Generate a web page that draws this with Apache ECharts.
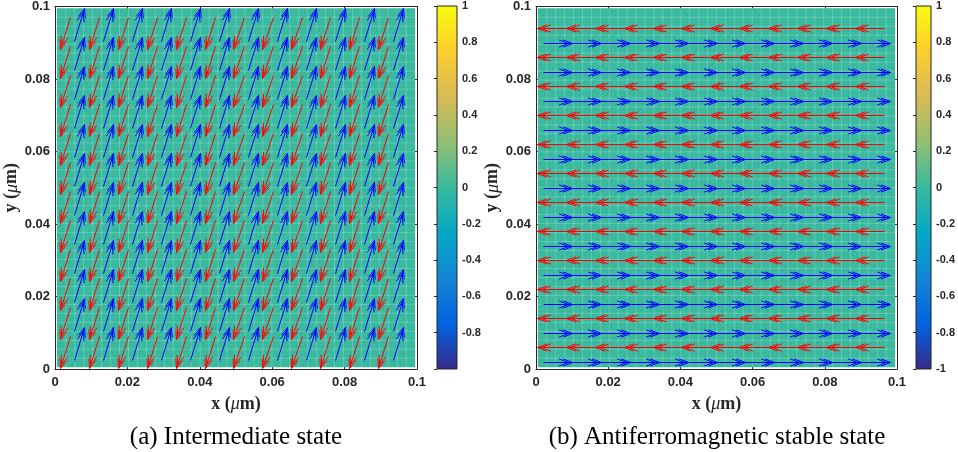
<!DOCTYPE html>
<html><head><meta charset="utf-8">
<script src="https://cdn.jsdelivr.net/npm/echarts@6/dist/echarts.min.js"></script>
<style>html,body{margin:0;padding:0;background:#fff}#c{width:958px;height:452px}</style>
</head><body><div id="c"></div>
<script>
// ---------------- data ----------------
const axisTicks = [0, 0.02, 0.04, 0.06, 0.08, 0.1];
const colorbarTicks = [-1, -0.8, -0.6, -0.4, -0.2, 0, 0.2, 0.4, 0.6, 0.8, 1];
const parulaStops = ['#352a87', '#0363e1', '#1485d4', '#06a7c6', '#38b99e', '#92bf73', '#d9ba56', '#fcce2e', '#f9fb0e'];
const fieldValue = 0;                 // m_z over the whole sample
const fieldExtent = [0.0005, 0.0995]; // sample extent (um)
const meshStep = 0.0025;              // FEM mesh cell (um)

// Panel (a) intermediate state: two canted sublattices
const aRedX  = [0.0041, 0.0121, 0.0201, 0.0281, 0.0361, 0.0441, 0.0521, 0.0601, 0.0681, 0.0761, 0.0841, 0.0921];
const aRedY  = [0.0972, 0.0892, 0.0812, 0.0732, 0.0652, 0.0572, 0.0492, 0.0412, 0.0332, 0.0252, 0.0172, 0.0092];
const aRedVec  = [-0.0028, -0.0090];
const aBlueX = [0.0053, 0.0133, 0.0213, 0.0293, 0.0373, 0.0453, 0.0533, 0.0613, 0.0693, 0.0773, 0.0853, 0.0933];
const aBlueY = [0.0905, 0.0825, 0.0745, 0.0665, 0.0585, 0.0505, 0.0425, 0.0345, 0.0265, 0.0185, 0.0105, 0.0025];
const aBlueVec = [0.0028, 0.0090];

// Panel (b) antiferromagnetic stable state: alternating rows
const bRedX  = [0.0083, 0.0163, 0.0243, 0.0323, 0.0403, 0.0483, 0.0563, 0.0643, 0.0723, 0.0803, 0.0883, 0.0963];
const bRedY  = [0.0942, 0.0862, 0.0782, 0.0702, 0.0622, 0.0542, 0.0462, 0.0382, 0.0302, 0.0222, 0.0142, 0.0062];
const bRedVec  = [-0.0080, 0];
const bBlueX = [0.0020, 0.0100, 0.0180, 0.0260, 0.0340, 0.0420, 0.0500, 0.0580, 0.0660, 0.0740, 0.0820, 0.0900];
const bBlueY = [0.0900, 0.0820, 0.0740, 0.0660, 0.0580, 0.0500, 0.0420, 0.0340, 0.0260, 0.0180, 0.0100, 0.0020];
const bBlueVec = [0.0080, 0];

const captions = ['(a) Intermediate state', '(b) Antiferromagnetic stable state'];

// ---------------- helpers ----------------
function hexToRgb(h){return [parseInt(h.substr(1,2),16),parseInt(h.substr(3,2),16),parseInt(h.substr(5,2),16)];}
function parula(v){ // v in [-1,1]
  const t = (v + 1) / 2 * (parulaStops.length - 1);
  const i = Math.max(0, Math.min(parulaStops.length - 2, Math.floor(t)));
  const f = t - i;
  const a = hexToRgb(parulaStops[i]), b = hexToRgb(parulaStops[i+1]);
  return 'rgb(' + a.map((c,k)=>Math.round(c + (b[k]-c)*f)).join(',') + ')';
}
function grid2(xs, ys, vec){
  const out = [];
  ys.forEach(y => xs.forEach(x => out.push([x, y, vec[0], vec[1]])));
  return out;
}
const snap = p => [Math.round(p[0]) + 0.5, Math.round(p[1]) + 0.5];
function arrowRender(color){
  return function(params, api){
    const x = api.value(0), y = api.value(1), u = api.value(2), v = api.value(3);
    const p0 = snap(api.coord([x, y])), p1 = snap(api.coord([x + u, y + v]));
    const dx = p1[0]-p0[0], dy = p1[1]-p0[1];
    const L = Math.hypot(dx, dy) || 1;
    const ux = dx/L, uy = dy/L;
    const hl = 10, ang = 21 * Math.PI/180;
    const bx = -ux, by = -uy;
    const r1 = [bx*Math.cos(ang) - by*Math.sin(ang), bx*Math.sin(ang) + by*Math.cos(ang)];
    const r2 = [bx*Math.cos(-ang) - by*Math.sin(-ang), bx*Math.sin(-ang) + by*Math.cos(-ang)];
    const style = {stroke: color, lineWidth: 1, fill: null};
    const children = [{type:'polyline', shape:{points:[p0, p1]}, style}];
    [0, 4].forEach(off => {
      const t = [p1[0] - ux*off, p1[1] - uy*off];
      children.push({type:'polyline', shape:{points:[
        [t[0] + r1[0]*hl, t[1] + r1[1]*hl], t, [t[0] + r2[0]*hl, t[1] + r2[1]*hl]]}, style});
    });
    return {type:'group', children};
  };
}
function fieldRender(params, api){
  const lo = api.value(0), hi = api.value(1);
  const a = api.coord([lo, lo]), b = api.coord([hi, hi]);
  const children = [{type:'rect', shape:{x:a[0], y:b[1], width:b[0]-a[0], height:a[1]-b[1]},
    style:{fill: parula(fieldValue)}}];
  const n = Math.round((hi - lo) / meshStep);
  const sx = (b[0]-a[0])/n, sy = (a[1]-b[1])/n;
  const line = {stroke:'rgba(255,255,255,0.30)', lineWidth:0.7};
  const dash = {stroke:'rgba(255,255,255,0.25)', lineWidth:0.6, lineDash:[1.5,1.5]};
  for (let i = 1; i < n; i++){
    children.push({type:'line', shape:{x1:a[0]+i*sx, y1:b[1], x2:a[0]+i*sx, y2:a[1]}, style:line});
    children.push({type:'line', shape:{x1:a[0], y1:b[1]+i*sy, x2:b[0], y2:b[1]+i*sy}, style:line});
  }
  for (let i = 0; i < n; i++) for (let j = 0; j < n; j++){
    children.push({type:'line', shape:{x1:a[0]+i*sx, y1:a[1]-j*sy, x2:a[0]+(i+1)*sx, y2:a[1]-(j+1)*sy}, style:dash});
  }
  return {type:'group', children, silent:true};
}
function colorbarRender(params, api){
  const a = api.coord([0, colorbarTicks[0]]), b = api.coord([1, colorbarTicks[colorbarTicks.length-1]]);
  return {type:'rect', shape:{x:a[0], y:b[1], width:b[0]-a[0], height:a[1]-b[1]},
    style:{fill:new echarts.graphic.LinearGradient(0,1,0,0, parulaStops.map((c,i)=>({offset:i/(parulaStops.length-1), color:c}))),
      stroke:'#262626', lineWidth:1}};
}

// ---------------- axes ----------------
const axCol = '#262626';
const tickFont = {color: axCol, fontFamily:'Liberation Sans, Arial', fontWeight:'bold', fontSize:13};
const nameRich = {
  b:{fontFamily:'Liberation Serif, Times New Roman', fontWeight:'bold', fontSize:18, color:axCol},
  i:{fontFamily:'Liberation Serif, Times New Roman', fontStyle:'italic', fontSize:18, color:axCol}
};
function mainX(grid, pos, withLabel, name){
  return {type:'value', gridIndex:grid, position:pos, min:axisTicks[0], max:axisTicks[axisTicks.length-1],
    interval:axisTicks[1]-axisTicks[0],
    axisLine:{show:true, onZero:false, lineStyle:{color:axCol, width:1}},
    axisTick:{show:true, inside:true, length:4, lineStyle:{color:axCol}},
    axisLabel:{show:withLabel, margin:7, ...tickFont},
    splitLine:{show:false},
    name: name || '', nameLocation:'middle', nameGap:26, nameTextStyle:{rich:nameRich}};
}
function mainY(grid, pos, withLabel, name){
  return {type:'value', gridIndex:grid, position:pos, min:axisTicks[0], max:axisTicks[axisTicks.length-1],
    interval:axisTicks[1]-axisTicks[0],
    axisLine:{show:true, onZero:false, lineStyle:{color:axCol, width:1}},
    axisTick:{show:true, inside:true, length:4, lineStyle:{color:axCol}},
    axisLabel:{show:withLabel, margin:5, ...tickFont},
    splitLine:{show:false},
    name: name || '', nameLocation:'middle', nameGap:30, nameRotate:90, nameTextStyle:{rich:nameRich}};
}
function cbX(grid){
  return {type:'value', gridIndex:grid, min:0, max:1, show:false};
}
function cbY(grid, hideMin){
  return {type:'value', gridIndex:grid, position:'right', min:colorbarTicks[0], max:colorbarTicks[colorbarTicks.length-1],
    interval:colorbarTicks[1]-colorbarTicks[0],
    axisLine:{show:false},
    axisTick:{show:true, inside:true, length:3, lineStyle:{color:axCol}},
    axisLabel:{show:true, margin:5, color:axCol, fontFamily:'Liberation Sans, Arial', fontWeight:'bold', fontSize:11,
      formatter: v => (hideMin && Math.abs(v - colorbarTicks[0]) < 1e-9) ? '' : String(Math.round(v*10)/10)},
    splitLine:{show:false}};
}
const xName = '{b|x (}{i|μ}{b|m)}';
const yName = '{b|y (}{i|μ}{b|m)}';
const capFont = '25px "Liberation Serif", "Times New Roman", serif';

const option = {
  animation:false,
  backgroundColor:'#ffffff',
  grid:[
    {left:55, top:6, width:362, height:363},
    {left:437, top:6, width:20, height:363},
    {left:536, top:6, width:361, height:363},
    {left:916, top:6, width:21, height:363}
  ],
  xAxis:[
    mainX(0,'bottom',true,xName), mainX(0,'top',false),
    cbX(1),
    mainX(2,'bottom',true,xName), mainX(2,'top',false),
    cbX(3)
  ],
  yAxis:[
    mainY(0,'left',true,yName), mainY(0,'right',false),
    cbY(1,true),
    mainY(2,'left',true,yName), mainY(2,'right',false),
    cbY(3,false)
  ],
  series:[
    {type:'custom', xAxisIndex:0, yAxisIndex:0, data:[fieldExtent], renderItem:fieldRender, z:1},
    {type:'custom', xAxisIndex:0, yAxisIndex:0, data:grid2(aRedX, aRedY, aRedVec), renderItem:arrowRender('#ff0000'), clip:false, z:2},
    {type:'custom', xAxisIndex:0, yAxisIndex:0, data:grid2(aBlueX, aBlueY, aBlueVec), renderItem:arrowRender('#0000ff'), clip:false, z:3},
    {type:'custom', xAxisIndex:2, yAxisIndex:2, data:[[0,1]], renderItem:colorbarRender, z:1},
    {type:'custom', xAxisIndex:3, yAxisIndex:3, data:[fieldExtent], renderItem:fieldRender, z:1},
    {type:'custom', xAxisIndex:3, yAxisIndex:3, data:grid2(bRedX, bRedY, bRedVec), renderItem:arrowRender('#ff0000'), clip:false, z:2},
    {type:'custom', xAxisIndex:3, yAxisIndex:3, data:grid2(bBlueX, bBlueY, bBlueVec), renderItem:arrowRender('#0000ff'), clip:false, z:3},
    {type:'custom', xAxisIndex:5, yAxisIndex:5, data:[[0,1]], renderItem:colorbarRender, z:1}
  ],
  graphic:[
    {type:'text', x:236, y:437, style:{text:captions[0], textAlign:'center', textVerticalAlign:'middle', font:capFont, fill:'#000'}},
    {type:'text', x:717, y:437, style:{text:captions[1], textAlign:'center', textVerticalAlign:'middle', font:capFont, fill:'#000'}}
  ]
};
const chart = echarts.init(document.getElementById('c'));
chart.setOption(option);
</script></body></html>
